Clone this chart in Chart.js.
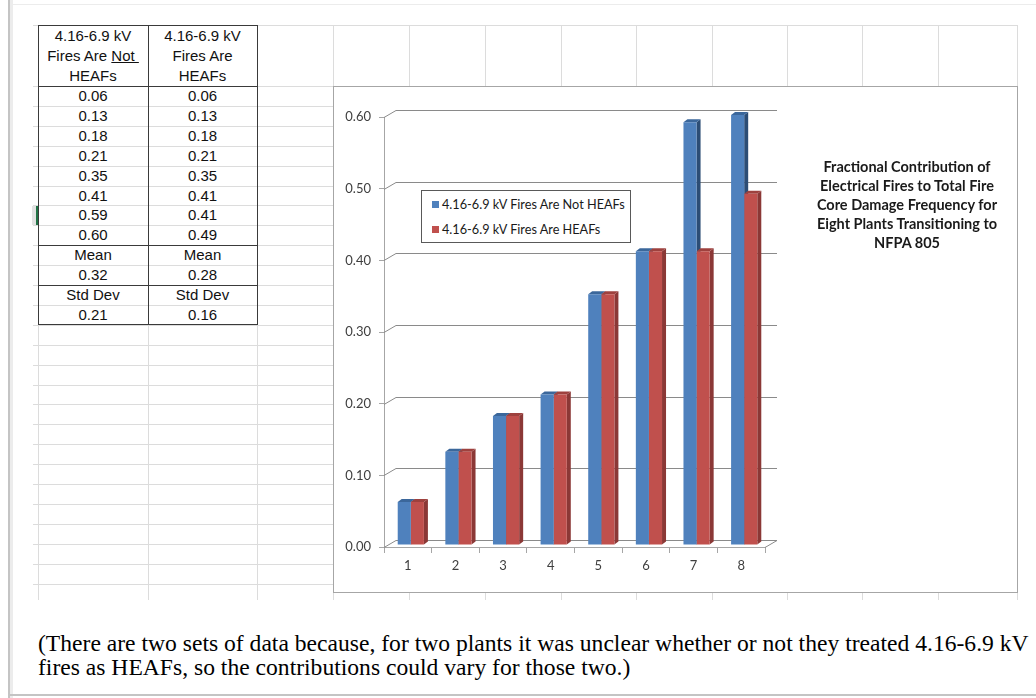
<!DOCTYPE html>
<html>
<head>
<meta charset="utf-8">
<script src="https://cdn.jsdelivr.net/npm/chart.js@4.4.0/dist/chart.umd.min.js"></script>
<style>
  body { margin: 0; width: 1036px; height: 698px; background: #fff; position: relative; overflow: hidden;
         font-family: "Liberation Sans", Arial, sans-serif; }
  .ln { position: absolute; background: #dcdcdc; }
  .dk { position: absolute; background: #3a3a3a; }
  .cell { position: absolute; text-align: center; font-size: 15px; color: #111; line-height: 20px; }
  #box { position: absolute; left: 333px; top: 86px; width: 683px; height: 505px; background: #fff;
         border: 1px solid #a6a6a6; }
  #c { position: absolute; left: 334px; top: 87px; }
  #legend { position: absolute; left: 421px; top: 190px; width: 208px; height: 51px; background: #fff;
            border: 1px solid #595959; font-family: Lato, sans-serif; font-size: 12.7px; color: #1a1a1a; }
  #legend div { position: absolute; left: 10px; white-space: nowrap; }
  #legend span { display: inline-block; width: 7px; height: 7px; margin-right: 3px; vertical-align: 1px; }
  #title { position: absolute; left: 790px; top: 157px; width: 234px; text-align: center;
           font-family: Lato, sans-serif; font-weight: bold; font-size: 14.5px; line-height: 19px; color: #1a1a1a; }
  #caption { position: absolute; left: 38px; top: 631px; font-family: "Liberation Serif", "Times New Roman", serif;
             font-size: 23.6px; line-height: 24px; white-space: nowrap; color: #000; }
</style>
</head>
<body>
<div id="sheet"></div>
<div id="box"></div>
<canvas id="c" width="683" height="505"></canvas>
<div id="legend"></div>
<div id="title">Fractional Contribution of<br>Electrical Fires to Total Fire<br>Core Damage Frequency for<br>Eight Plants Transitioning to<br>NFPA 805</div>
<div id="caption">(There are two sets of data because, for two plants it was unclear whether or not they treated 4.16-6.9 kV<br>fires as HEAFs, so the contributions could vary for those two.)</div>
<script>
"use strict";
// plants on the x axis
const plants = ["1", "2", "3", "4", "5", "6", "7", "8"];
// fractional contribution when 4.16-6.9 kV fires are not HEAFs
const notHeafs = [0.06, 0.13, 0.18, 0.21, 0.35, 0.41, 0.59, 0.60];
// same, when they are counted as HEAFs
const areHeafs = [0.06, 0.13, 0.18, 0.21, 0.35, 0.41, 0.41, 0.49];
const seriesNames = ["4.16-6.9 kV Fires Are Not HEAFs", "4.16-6.9 kV Fires Are HEAFs"];
// summary rows of the table, as printed
const meanRow = ["0.32", "0.28"];
const stdRow = ["0.21", "0.16"];
const yMin = 0, yMax = 0.6, yStep = 0.1;

const sheet = document.getElementById("sheet");
function line(x, y, w, h, cls) {
  const d = document.createElement("div");
  d.className = cls || "ln";
  d.style.cssText = "left:" + x + "px;top:" + y + "px;width:" + w + "px;height:" + h + "px";
  sheet.appendChild(d);
  return d;
}

// page edges
line(10, 4, 1026, 1).style.background = "#ececec";
line(8, 0, 2, 698).style.background = "#c4c4c4";
line(10, 0, 3, 698).style.background = "#ececec";
line(8, 694, 1028, 2).style.background = "#c4c4c4";

// spreadsheet grid
const rowH = 19.9;
const colX = [38, 148, 257, 333, 409, 485, 561, 636, 712, 787, 862, 938, 1017];
colX.forEach(x => line(x, 25, 1, 575));
line(33, 25, 984, 1);
line(33, 86, 984, 1);
for (let k = 1; k <= 25; k++) line(33, Math.round(86 + k * rowH), 984, 1);

// table
const colL = [38, 148], colW = [110, 109];
const headers = ["4.16-6.9 kV<br>Fires Are <u>Not&nbsp;</u><br>HEAFs", "4.16-6.9 kV<br>Fires Are<br>HEAFs"];
[notHeafs, areHeafs].forEach((vals, i) => {
  const h = line(colL[i], 26, colW[i], 60, "cell");
  h.innerHTML = headers[i];
  const rows = vals.map(v => v.toFixed(2)).concat(["Mean", meanRow[i], "Std Dev", stdRow[i]]);
  rows.forEach((t, k) => {
    const c = line(colL[i], 86 + k * rowH, colW[i], rowH, "cell");
    c.textContent = t;
  });
});
[38, 148, 257].forEach(x => line(x, 25, 1, 300, "dk"));
[25, 86, 245, 285, 324].forEach(y => line(38, y, 220, 1, "dk"));

// row marker (drawn over the table edge)
line(32, 206, 4, 19).style.background = "#e2e2e2";
line(36, 206, 2, 19).style.background = "#217346";

// 3D look: back wall grid, floor and bar depth faces
const DX = 12, DY = -7;
const BD = 4, BH = -3;
const depth3d = {
  id: "depth3d",
  beforeDatasetsDraw(chart) {
    const { ctx, chartArea: a, scales: { y } } = chart;
    ctx.save();
    ctx.strokeStyle = "#8a8a8a";
    ctx.lineWidth = 1;
    y.ticks.forEach(t => {
      const py = Math.round(y.getPixelForValue(t.value)) + 0.5;
      ctx.beginPath();
      ctx.moveTo(a.left, py);
      ctx.lineTo(a.left + DX, py + DY);
      ctx.lineTo(a.right + DX, py + DY);
      if (t.value === 0) ctx.lineTo(a.right, py);
      ctx.stroke();
    });
    ctx.restore();
    ctx.save();
    ctx.translate(3, -2);
    chart.data.datasets.forEach((ds, i) => {
      chart.getDatasetMeta(i).data.forEach(bar => {
        const l = bar.x - bar.width / 2, r = bar.x + bar.width / 2;
        ctx.fillStyle = ds.sideColor;
        ctx.beginPath();
        ctx.moveTo(r, bar.y);
        ctx.lineTo(r + BD, bar.y + BH);
        ctx.lineTo(r + BD, bar.base + BH);
        ctx.lineTo(r, bar.base);
        ctx.fill();
        ctx.fillStyle = ds.topColor;
        ctx.beginPath();
        ctx.moveTo(l, bar.y);
        ctx.lineTo(l + BD, bar.y + BH);
        ctx.lineTo(r + BD, bar.y + BH);
        ctx.lineTo(r, bar.y);
        ctx.fill();
      });
    });
  },
  afterDatasetsDraw(chart) {
    chart.ctx.restore();
  }
};

const tickFont = { family: "Lato", size: 13 };
const chart = new Chart(document.getElementById("c"), {
  type: "bar",
  data: {
    labels: plants,
    datasets: [
      { label: seriesNames[0], data: notHeafs, backgroundColor: "#4f81bd", sideColor: "#2c4d75", topColor: "#3b679b" },
      { label: seriesNames[1], data: areHeafs, backgroundColor: "#c0504d", sideColor: "#8b3836", topColor: "#9e413e" }
    ]
  },
  options: {
    responsive: false,
    animation: false,
    datasets: { bar: { categoryPercentage: 0.55, barPercentage: 1 } },
    layout: { padding: { left: 0, top: 30, right: 252, bottom: 13 } },
    plugins: { legend: { display: false }, title: { display: false }, tooltip: { enabled: false } },
    scales: {
      x: {
        grid: { drawOnChartArea: false, tickLength: 6, color: "#a6a6a6", offset: true },
        border: { color: "#a6a6a6" },
        ticks: { font: tickFont, color: "#3f3f3f", padding: 5 },
        afterFit: s => { s.height = 32; }
      },
      y: {
        min: yMin, max: yMax,
        grid: { drawOnChartArea: false, tickLength: 5, color: "#a6a6a6" },
        border: { color: "#a6a6a6" },
        ticks: { stepSize: yStep, font: tickFont, color: "#3f3f3f", padding: 8, callback: v => v.toFixed(2) },
        afterFit: s => { s.width = 50; }
      }
    }
  },
  plugins: [depth3d]
});

// legend box built from the chart's own series
const legend = document.getElementById("legend");
Chart.defaults.plugins.legend.labels.generateLabels(chart).forEach((item, i) => {
  const d = document.createElement("div");
  d.style.top = (5 + i * 25) + "px";
  d.innerHTML = '<span style="background:' + item.fillStyle + '"></span>' + item.text;
  legend.appendChild(d);
});
</script>
</body>
</html>
